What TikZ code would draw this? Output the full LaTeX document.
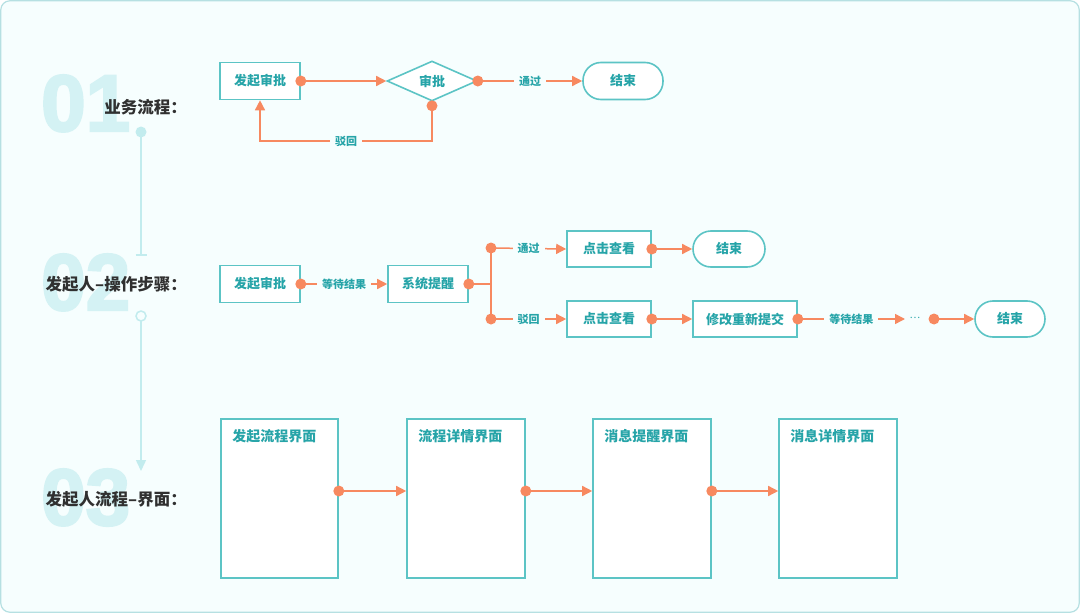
\documentclass[tikz,border=0pt]{standalone}
\usepackage{fontspec}
\setmainfont{Noto Sans CJK SC}
\newfontfamily\numfont{Liberation Sans}[UprightFont={* Bold}, FakeBold=3]
\usetikzlibrary{arrows.meta,shapes.geometric}
\definecolor{bg}{RGB}{246,254,254}
\definecolor{frame}{RGB}{182,224,226}
\definecolor{tealb}{RGB}{92,196,197}
\definecolor{tealt}{RGB}{38,164,168}
\definecolor{orng}{RGB}{247,137,96}
\definecolor{tline}{RGB}{194,236,238}
\definecolor{numc}{RGB}{212,242,244}
\definecolor{dark}{RGB}{48,48,48}
\begin{document}
\begin{tikzpicture}[x=1pt,y=-1pt,
  box/.style={draw=tealb, line width=1.6pt, fill=white, text=tealt,
    font=\fontsize{13}{13}\selectfont\bfseries, minimum width=80pt,
    minimum height=37pt, inner sep=0pt},
  pill/.style={box, rounded corners=18pt},
  dia/.style={box, shape=diamond, aspect=2.25, minimum width=90pt, minimum height=40pt},
  screen/.style={draw=tealb, line width=1.6pt, fill=white, minimum width=117pt,
    minimum height=159pt, inner sep=0pt},
  stitle/.style={anchor=west, text=tealt, inner sep=0pt,
    font=\fontsize{14}{14}\selectfont\bfseries},
  arr/.style={draw=orng, line width=1.5pt, -{Triangle[length=10pt,width=10pt]}},
  oline/.style={draw=orng, line width=1.5pt},
  lbl/.style={fill=bg, text=tealt, inner xsep=5pt, inner ysep=2pt,
    font=\fontsize{11}{11}\selectfont\bfseries},
  side/.style={anchor=east, text=dark, inner sep=0pt,
    font=\fontsize{16.5}{16.5}\selectfont\bfseries},
  bignum/.style={anchor=base west, text=numc, inner sep=0pt,
    font=\fontsize{80}{80}\numfont},
  dotc/.style={fill=orng}
]
\useasboundingbox (0,0) rectangle (1080,613);
\draw[draw=frame, fill=bg, line width=1.2pt, rounded corners=9pt] (0.8,0.8) rectangle (1079.2,612.2);

% big numbers and side labels
\node[bignum] (n1) at (41,131) {01};
\node[bignum] (n2) at (41,310) {02};
\node[bignum] (n3) at (41,525) {03};
\node[side] (l1) at (187,107) {业务流程：};
\node[side] (l2) at (187,284) {发起人–操作步骤：};
\node[side] (l3) at (187,499) {发起人流程–界面：};

% timeline
\fill[tline] (141,132) circle (5.5pt);
\draw[tline, line width=1.5pt] (141,132) -- (141,255);
\draw[tline, line width=1.5pt] (135.5,255) -- (146.5,255);
\draw[tline, line width=1.5pt, fill=bg] (141,316) circle (5pt);
\draw[tline, line width=1.5pt, -{Triangle[length=11pt,width=10pt]}] (141,321) -- (141,471);

% row 1
\node[box] (a1) at (260,81) {发起审批};
\node[dia] (a2) at (432,81) {审批};
\node[pill] (a3) at (623,81) {结束};
\draw[arr] (a1.east) -- (a2.west);
\draw[arr] (a2.east) -- node[lbl] {通过} (a3.west);
\draw[arr] ([yshift=-4pt]a2.south) |- node[lbl, pos=0.75] {驳回} (a1.south |- 0,141) -- (a1.south);
\fill[dotc] (a1.east) circle (5.5pt);
\fill[dotc] (a2.east) circle (5.5pt);
\fill[dotc] ([yshift=-4pt]a2.south) circle (5.5pt);

% row 2
\node[box] (b1) at (260,284) {发起审批};
\node[box] (b2) at (428,284) {系统提醒};
\coordinate (bj) at (491,284);
\coordinate (bt) at (491,248);
\coordinate (bb) at (491,319);
\node[box, minimum width=84pt, minimum height=36pt] (c1) at (609,249) {点击查看};
\node[pill, minimum width=72pt, minimum height=36pt] (c2) at (729,249) {结束};
\node[box, minimum width=84pt, minimum height=36pt] (d1) at (609,319) {点击查看};
\node[box, minimum width=104pt, minimum height=36pt] (d2) at (745,319) {修改重新提交};
\coordinate (dm) at (905,319);
\node[text=tealt, inner sep=0pt, font=\fontsize{10}{10}\selectfont] (dd) at (915,318) {…};
\coordinate (dn) at (934,319);
\node[pill, minimum width=70pt, minimum height=36pt] (d3) at (1010,319) {结束};

\draw[arr] (b1.east) -- node[lbl] {等待结果} (b2.west);
\draw[oline] (b2.east) -- (bj);
\draw[oline] (bt) -- (bb);
\draw[arr] (bt) -- node[lbl] {通过} (c1.west);
\draw[arr] (bb) -- node[lbl] {驳回} (d1.west);
\draw[arr] (c1.east) -- (c2.west);
\draw[arr] (d1.east) -- (d2.west);
\draw[arr] (d2.east) -- node[lbl] {等待结果} (dm);
\draw[arr] (dn) -- (d3.west);
\fill[dotc] (b1.east) circle (5.5pt);
\fill[dotc] (b2.east) circle (5.5pt);
\fill[dotc] (bt) circle (5.5pt);
\fill[dotc] (bb) circle (5.5pt);
\fill[dotc] (c1.east) circle (5.5pt);
\fill[dotc] (d1.east) circle (5.5pt);
\fill[dotc] (d2.east) circle (5.5pt);
\fill[dotc] (dn) circle (5.5pt);

% row 3
\node[screen] (s1) at (279.5,498.5) {};
\node[screen, minimum width=118pt] (s2) at (466,498.5) {};
\node[screen, minimum width=118pt] (s3) at (652,498.5) {};
\node[screen, minimum width=118pt] (s4) at (838,498.5) {};
\node[stitle] (t1) at ([xshift=12pt, yshift=-18pt]s1.north west) {发起流程界面};
\node[stitle] (t2) at ([xshift=12pt, yshift=-18pt]s2.north west) {流程详情界面};
\node[stitle] (t3) at ([xshift=12pt, yshift=-18pt]s3.north west) {消息提醒界面};
\node[stitle] (t4) at ([xshift=12pt, yshift=-18pt]s4.north west) {消息详情界面};
\draw[arr] ([yshift=7.5pt]s1.east) -- ([yshift=7.5pt]s2.west);
\draw[arr] ([yshift=7.5pt]s2.east) -- ([yshift=7.5pt]s3.west);
\draw[arr] ([yshift=7.5pt]s3.east) -- ([yshift=7.5pt]s4.west);
\fill[dotc] ([yshift=7.5pt]s1.east) circle (5.5pt);
\fill[dotc] ([yshift=7.5pt]s2.east) circle (5.5pt);
\fill[dotc] ([yshift=7.5pt]s3.east) circle (5.5pt);
\end{tikzpicture}
\end{document}
